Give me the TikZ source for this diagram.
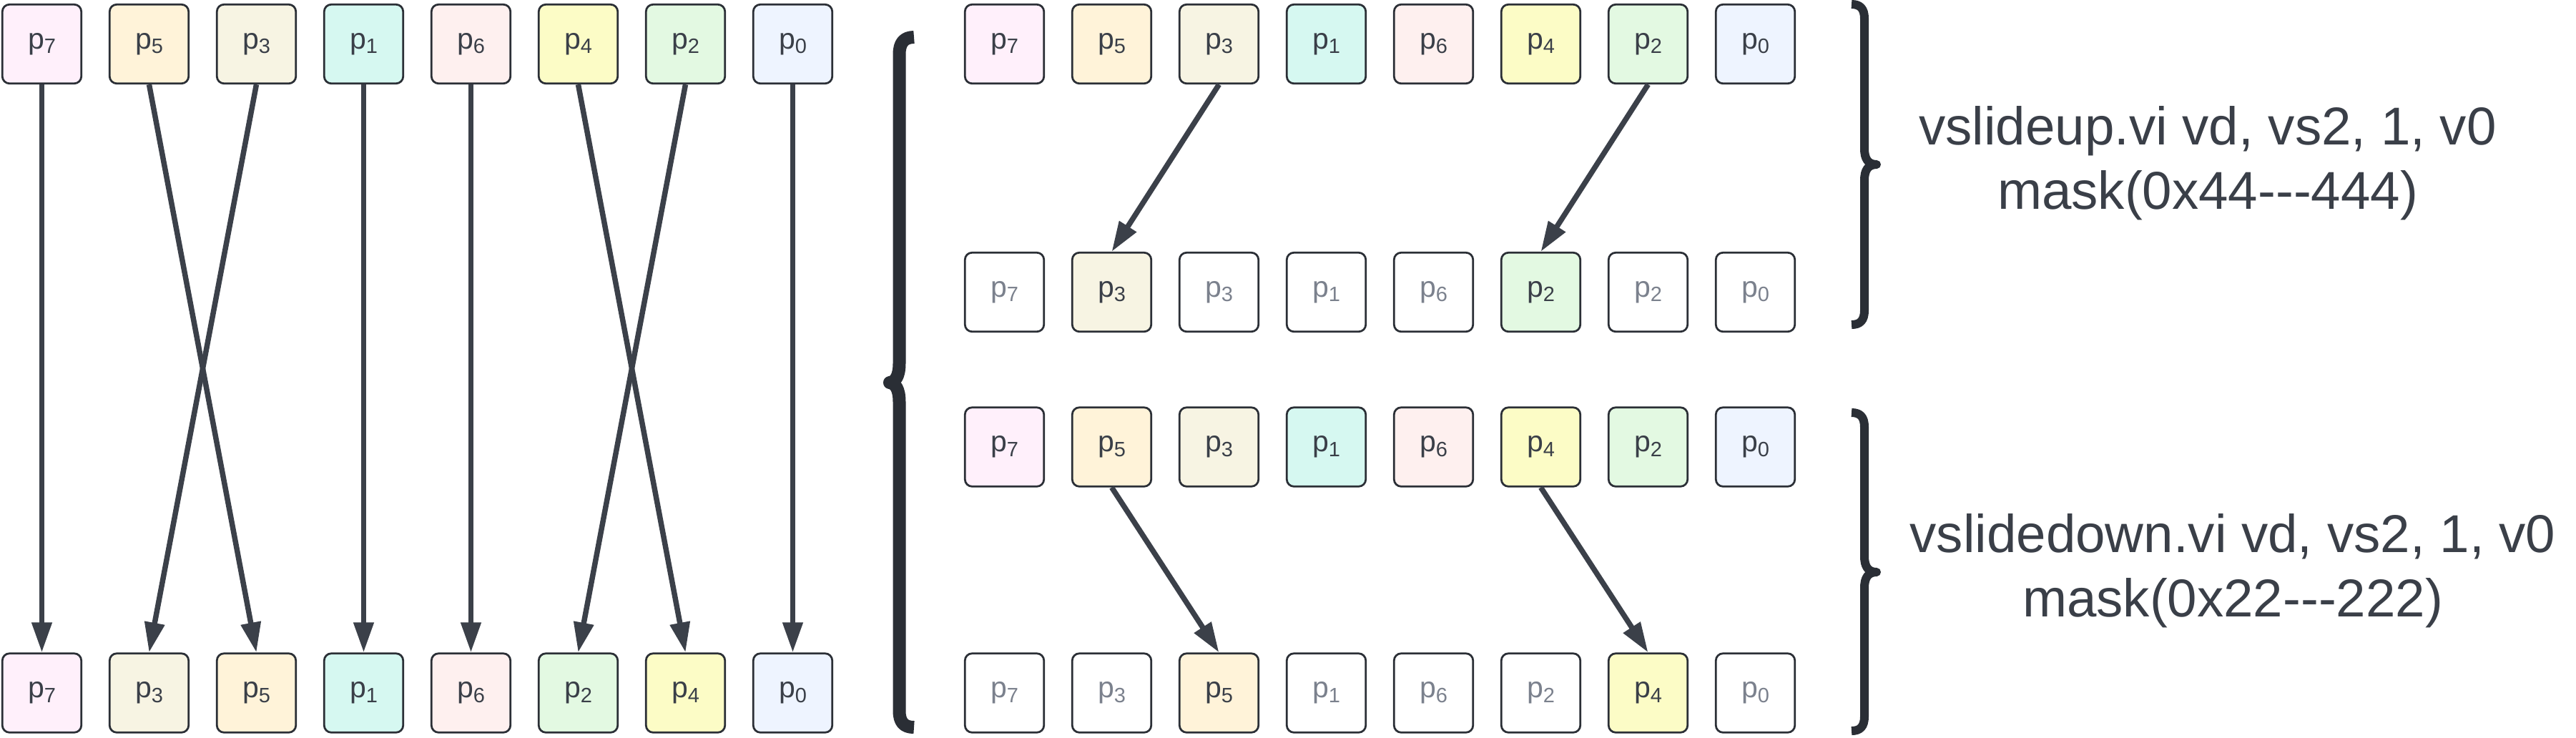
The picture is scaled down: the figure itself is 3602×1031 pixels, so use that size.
\documentclass[tikz,border=0pt]{standalone}
\usepackage{fontspec}
\setmainfont{Liberation Sans}
\usetikzlibrary{arrows.meta}
\definecolor{boxline}{HTML}{2B2F36}
\definecolor{txt}{HTML}{3A3F48}
\definecolor{gtxt}{HTML}{7B818D}
\definecolor{arrc}{HTML}{3B4049}
\definecolor{brc}{HTML}{2A2E35}
\definecolor{c7}{HTML}{FFF0FB}
\definecolor{c5}{HTML}{FFF3D9}
\definecolor{c3}{HTML}{F7F4E3}
\definecolor{c1}{HTML}{D6F8F1}
\definecolor{c6}{HTML}{FEF0EF}
\definecolor{c4}{HTML}{FCFCC6}
\definecolor{c2}{HTML}{E3F9E2}
\definecolor{c0}{HTML}{EEF4FF}
\newcommand{\plabel}[1]{p\raisebox{-1.3pt}{\fontsize{5.8}{6}\selectfont #1}}
\newcommand{\hy}{\hbox{-}}
\begin{document}
\begin{tikzpicture}[x=0.2pt,y=-0.2pt,
  cell/.style={draw=boxline, line width=0.55pt, rounded corners=2pt,
    minimum size=22.1pt, inner sep=0pt, font=\fontsize{8.2}{9}\selectfont, text=txt},
  on/.style={cell, fill=c#1},
  off/.style={cell, fill=white, text=gtxt},
  arr/.style={draw=arrc, line width=1.5pt, -{Triangle[width=5.4pt,length=8.4pt]}},
  lbrace/.style={draw=brc, line width=3.6pt, line join=round},
  rbrace/.style={draw=brc, line width=2.4pt, line join=round},
  lbl/.style={font=\fontsize{14.9}{18}\selectfont, text=txt, align=center, inner sep=0pt}]
\useasboundingbox (0,0) rectangle (3602,1031);
% left panel
\foreach \l [count=\i from 0] in {7,5,3,1,6,4,2,0}
  \node[on=\l] (L\i) at ({58.5+150*\i},61.5) {\plabel{\l}};
\foreach \l [count=\i from 0] in {7,3,5,1,6,2,4,0}
  \node[on=\l] (LB\i) at ({58.5+150*\i},969) {\plabel{\l}};
\draw[arr] (L0.south) -- (LB0.north);
\draw[arr] (L1.south) -- (LB2.north);
\draw[arr] (L2.south) -- (LB1.north);
\draw[arr] (L3.south) -- (LB3.north);
\draw[arr] (L4.south) -- (LB4.north);
\draw[arr] (L5.south) -- (LB6.north);
\draw[arr] (L6.south) -- (LB5.north);
\draw[arr] (L7.south) -- (LB7.north);
% right panel
\foreach \l [count=\i from 0] in {7,5,3,1,6,4,2,0}
  \node[on=\l] (A\i) at ({1404.5+150*\i},61.5) {\plabel{\l}};
\foreach \l/\s [count=\i from 0] in {7/off,3/on,3/off,1/off,6/off,2/on,2/off,0/off}
  \node[\s=\l] (B\i) at ({1404.5+150*\i},408.5) {\plabel{\l}};
\foreach \l [count=\i from 0] in {7,5,3,1,6,4,2,0}
  \node[on=\l] (C\i) at ({1404.5+150*\i},625) {\plabel{\l}};
\foreach \l/\s [count=\i from 0] in {7/off,3/off,5/on,1/off,6/off,2/off,4/on,0/off}
  \node[\s=\l] (D\i) at ({1404.5+150*\i},969) {\plabel{\l}};
\draw[arr] (A2.south) -- (B1.north);
\draw[arr] (A6.south) -- (B5.north);
\draw[arr] (C1.south) -- (D2.north);
\draw[arr] (C5.south) -- (D6.north);
% big left brace
\draw[lbrace] (1278,52) .. controls (1264,52) and (1257.5,60) .. (1257.5,76)
  -- (1257.5,508) .. controls (1257.5,526) and (1252,534) .. (1244,535)
  .. controls (1252,536) and (1257.5,544) .. (1257.5,562)
  -- (1257.5,994) .. controls (1257.5,1010) and (1264,1017) .. (1278,1017);
% right braces
\draw[rbrace] (2589,6) .. controls (2601,6) and (2607,12) .. (2607,26)
  -- (2607,208) .. controls (2607,222) and (2612,230) .. (2624,230)
  .. controls (2612,230) and (2607,238) .. (2607,252)
  -- (2607,434) .. controls (2607,448) and (2601,454) .. (2589,454);
\draw[rbrace] (2589,577) .. controls (2601,577) and (2607,583) .. (2607,597)
  -- (2607,778) .. controls (2607,792) and (2612,800) .. (2624,800)
  .. controls (2612,800) and (2607,808) .. (2607,822)
  -- (2607,1002) .. controls (2607,1016) and (2601,1022) .. (2589,1022);
\node[lbl] (t1) at (3087,228) {vslideup.vi vd, vs2, 1, v0\\mask(0x44\hy\hy\hy444)};
\node[lbl] (t2) at (3122,798) {vslidedown.vi vd, vs2, 1, v0\\mask(0x22\hy\hy\hy222)};
\end{tikzpicture}
\end{document}
